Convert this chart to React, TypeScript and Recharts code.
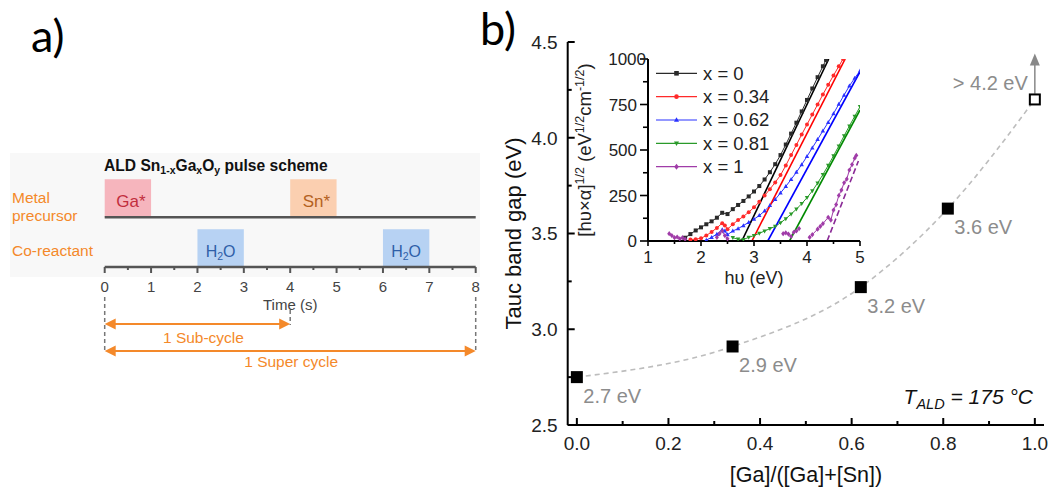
import React from 'react';
import {
  ComposedChart,
  LineChart,
  Line,
  Scatter,
  XAxis,
  YAxis,
  ReferenceArea,
  ReferenceLine,
  Legend,
} from 'recharts';

const FONT = '"Liberation Sans", Arial, Helvetica, sans-serif';

// ---------------- Panel a data ----------------
const timeTicks = [0, 0.5, 1, 1.5, 2, 2.5, 3, 3.5, 4, 4.5, 5, 5.5, 6, 6.5, 7, 7.5, 8];
const pulseNames = ['Ga*', 'H2O', 'Sn*', 'H2O'];
const pulseStart = [0, 2, 4, 6];
const pulseEnd = [1, 3, 5, 7];
const pulseRow = ['metal', 'co', 'metal', 'co'];
const cycleNames = ['1 Sub-cycle', '1 Super cycle'];
const cycleEnd = [4, 8];

// ---------------- Panel b data ----------------
const gaFraction = [0, 0.34, 0.62, 0.81, 1.0];
const bandGap = [2.75, 2.91, 3.22, 3.63, 4.2];
const gapLabels = ['2.7 eV', '2.9 eV', '3.2 eV', '3.6 eV', '> 4.2 eV'];
const isLowerBound = [false, false, false, false, true];
const mainXTicks = [0, 0.1, 0.2, 0.3, 0.4, 0.5, 0.6, 0.7, 0.8, 0.9, 1.0];
const mainYTicks = [2.5, 2.75, 3, 3.25, 3.5, 3.75, 4, 4.25, 4.5];

// ---------------- Inset data (Tauc plots) ----------------
const insetNames = ['x = 0', 'x = 0.34', 'x = 0.62', 'x = 0.81', 'x = 1'];
const insetXTicks = [1, 1.5, 2, 2.5, 3, 3.5, 4, 4.5, 5];
const insetYTicks = [0, 125, 250, 375, 500, 625, 750, 875, 1000];

const taucX0: [number, number | null][] = [
  [1.7, 18], [1.8, 38], [1.9, 58], [2.0, 75], [2.1, 92], [2.2, 108], [2.3, 128], [2.4, 155],
  [2.5, 148], [2.6, 175], [2.7, 198], [2.8, 220], [2.9, 245], [3.0, 272], [3.1, 302], [3.2, 338],
  [3.3, 378], [3.4, 422], [3.5, 472], [3.6, 530], [3.7, 590], [3.8, 650], [3.9, 712], [4.0, 775],
  [4.1, 838], [4.2, 900], [4.3, 960], [4.36, 995],
];
const taucX034: [number, number | null][] = [
  [1.8, 8], [1.9, 10], [2.0, 15], [2.1, 30], [2.2, 50], [2.3, 72], [2.4, 98], [2.45, 85],
  [2.5, 65], [2.6, 92], [2.7, 115], [2.8, 135], [2.9, 158], [3.0, 185], [3.1, 215], [3.2, 250],
  [3.3, 285], [3.4, 322], [3.5, 362], [3.6, 415], [3.7, 472], [3.8, 528], [3.9, 585], [4.0, 640],
  [4.1, 695], [4.2, 750], [4.3, 805], [4.4, 858], [4.5, 910], [4.6, 960], [4.68, 1000],
];
const taucX062: [number, number | null][] = [
  [2.1, 5], [2.2, 20], [2.3, 38], [2.4, 62], [2.45, 55], [2.5, 35], [2.6, 55], [2.7, 68],
  [2.8, 85], [2.9, 102], [3.0, 120], [3.1, 140], [3.2, 165], [3.3, 195], [3.4, 228], [3.5, 264],
  [3.6, 300], [3.7, 338], [3.8, 378], [3.9, 420], [4.0, 465], [4.1, 512], [4.2, 558], [4.3, 605],
  [4.4, 652], [4.5, 700], [4.6, 752], [4.7, 802], [4.8, 852], [4.9, 895], [5.0, 935],
];
const taucX081: [number, number | null][] = [
  [2.6, 18], [2.7, 10], [2.8, 8], [2.9, 20], [3.0, 30], [3.1, 42], [3.2, 55], [3.3, 68],
  [3.4, 80], [3.5, 100], [3.6, 122], [3.7, 148], [3.8, 175], [3.9, 205], [4.0, 238], [4.1, 275],
  [4.2, 318], [4.3, 365], [4.4, 415], [4.5, 468], [4.6, 522], [4.7, 578], [4.8, 632], [4.9, 685],
  [5.0, 738],
];
const taucX1: [number, number | null][] = [
  [1.4, 40], [1.45, 30], [1.5, 18], [1.55, 22], [1.6, 12], [1.65, 18], [1.7, 10], [1.75, null],
  [2.3, 20], [2.35, 40], [2.4, 55], [2.45, 30], [2.5, 12], [2.55, null],
  [3.55, 40], [3.6, 45], [3.65, 38], [3.7, 25], [3.75, 48], [3.8, 55], [3.85, 68], [3.9, null],
  [4.05, 20], [4.1, 35], [4.2, 65], [4.25, 80], [4.3, 95], [4.4, 130], [4.45, 115], [4.5, 170],
  [4.55, 200], [4.6, 250], [4.65, 280], [4.7, 320], [4.75, 340], [4.8, 390], [4.85, 420],
  [4.9, 455], [4.93, 470],
];
const fitX0: [number, number][] = [[2.77, 0], [4.41, 1000]];
const fitX034: [number, number][] = [[2.96, 0], [4.72, 1000]];
const fitX062: [number, number][] = [[3.26, 0], [5.0, 930]];
const fitX081: [number, number][] = [[3.67, 0], [5.0, 720]];
const fitX1: [number, number][] = [[4.38, 0], [4.97, 440]];

// ---------------- styles ----------------
const PULSE_STYLE: Record<string, { fill: string; text: string }> = {
  'Ga*': { fill: '#f6b5bd', text: '#c22e3d' },
  'Sn*': { fill: '#fbcfb0', text: '#b3611f' },
  H2O: { fill: '#b7d2f3', text: '#2f5fa8' },
};
const ROW_BAND: Record<string, [number, number]> = { metal: [49.7, 87.7], co: [0, 37.7] };
const CYCLE_Y = [56, 29];
const ORANGE = '#f4892a';
const SERIES_STYLE = [
  { color: '#2a2a2a', fit: '#000000', shape: 'square' },
  { color: '#ff2a2a', fit: '#ff0000', shape: 'circle' },
  { color: '#2a32ff', fit: '#0000ff', shape: 'up' },
  { color: '#2a9a2a', fit: '#008a00', shape: 'down' },
  { color: '#a03ca8', fit: '#8a2a96', shape: 'diamond' },
];

const toRows = (arr: [number, number | null][]) => arr.map(([hv, v]) => ({ hv, v }));
const insetSeries = [taucX0, taucX034, taucX062, taucX081, taucX1].map(toRows);
const insetFits = [fitX0, fitX034, fitX062, fitX081, fitX1].map(toRows);

const mainData = gaFraction.map((x, i) => ({
  x,
  gap: bandGap[i],
  label: gapLabels[i],
  open: isLowerBound[i],
}));
const timeData = timeTicks.map((t) => ({ t }));

// ---------------- helpers ----------------
const Marker = ({ shape, cx, cy, color, s }: any) => {
  if (cx == null || cy == null || Number.isNaN(cx) || Number.isNaN(cy)) return <g />;
  switch (shape) {
    case 'square':
      return <rect x={cx - s} y={cy - s} width={2 * s} height={2 * s} fill={color} />;
    case 'circle':
      return <circle cx={cx} cy={cy} r={s} fill={color} />;
    case 'up':
      return <polygon points={`${cx},${cy - s * 1.2} ${cx - s * 1.1},${cy + s * 0.8} ${cx + s * 1.1},${cy + s * 0.8}`} fill={color} />;
    case 'down':
      return <polygon points={`${cx},${cy + s * 1.2} ${cx - s * 1.1},${cy - s * 0.8} ${cx + s * 1.1},${cy - s * 0.8}`} fill={color} />;
    default:
      return <polygon points={`${cx},${cy - s * 1.3} ${cx + s},${cy} ${cx},${cy + s * 1.3} ${cx - s},${cy}`} fill={color} />;
  }
};

const isMult = (v: number, step: number) => Math.abs(v / step - Math.round(v / step)) < 1e-6;

// panel a ticks
const TimeTick = (p: any) => {
  const { x, y, payload } = p;
  const v = payload.value;
  const major = isMult(v, 1);
  return (
    <g>
      <line x1={x} x2={x} y1={y} y2={y + (major ? 6 : 3)} stroke="#555" strokeWidth={2} />
      {major && (
        <text x={x} y={y + 25} textAnchor="middle" fontSize={15} fill="#444" fontFamily={FONT}>
          {v}
        </text>
      )}
    </g>
  );
};

// main chart ticks (inward)
const MainXTick = (p: any) => {
  const { x, y, payload } = p;
  const v = payload.value;
  const major = isMult(v, 0.2);
  return (
    <g>
      <line x1={x} x2={x} y1={y} y2={y - (major ? 7 : 4)} stroke="#000" strokeWidth={2} />
      {major && (
        <text x={x} y={y + 24.5} textAnchor="middle" fontSize={19} fill="#222" fontFamily={FONT}>
          {v.toFixed(1)}
        </text>
      )}
    </g>
  );
};
const MainTopTick = (p: any) => {
  const { x, y, payload } = p;
  const major = isMult(payload.value, 0.2);
  return <line x1={x} x2={x} y1={y} y2={y + (major ? 7 : 4)} stroke="#000" strokeWidth={2} />;
};
const MainYTick = (p: any) => {
  const { x, y, payload } = p;
  const v = payload.value;
  const major = isMult(v, 0.5);
  return (
    <g>
      <line x1={x} x2={x + (major ? 7 : 4)} y1={y} y2={y} stroke="#000" strokeWidth={2} />
      {major && (
        <text x={x - 10} y={y + 6.8} textAnchor="end" fontSize={19} fill="#222" fontFamily={FONT}>
          {v.toFixed(1)}
        </text>
      )}
    </g>
  );
};
const MainRightTick = (p: any) => {
  const { x, y, payload } = p;
  const major = isMult(payload.value, 0.5);
  return <line x1={x} x2={x - (major ? 7 : 4)} y1={y} y2={y} stroke="#000" strokeWidth={2} />;
};

// inset ticks (outward)
const InsetXTick = (p: any) => {
  const { x, y, payload } = p;
  const v = payload.value;
  const major = isMult(v, 1);
  return (
    <g>
      <line x1={x} x2={x} y1={y} y2={y + (major ? 5 : 3)} stroke="#000" strokeWidth={1.6} />
      {major && (
        <text x={x} y={y + 22} textAnchor="middle" fontSize={17} fill="#222" fontFamily={FONT}>
          {v}
        </text>
      )}
    </g>
  );
};
const InsetYTick = (p: any) => {
  const { x, y, payload } = p;
  const v = payload.value;
  const major = isMult(v, 250);
  return (
    <g>
      <line x1={x} x2={x - (major ? 8 : 5)} y1={y} y2={y} stroke="#000" strokeWidth={1.6} />
      {major && (
        <text x={v === 1000 ? x - 2 : x - 11} y={y + 6} textAnchor="end" fontSize={17} fill="#222" fontFamily={FONT}>
          {v}
        </text>
      )}
    </g>
  );
};

const InsetLegend = (props: any) => {
  const payload = (props.payload || []).filter((e: any) => e.type !== 'none' && insetNames.includes(e.value));
  return (
    <svg width={130} height={118} style={{ display: 'block', overflow: 'visible' }}>
      {payload.map((e: any) => {
        const idx = insetNames.indexOf(e.value);
        const st = SERIES_STYLE[idx];
        const y = 11.3 + idx * 23.35;
        return (
          <g key={e.value}>
            <line x1={4} x2={45} y1={y} y2={y} stroke={st.color} strokeWidth={1.2} />
            <Marker shape={st.shape} cx={24.5} cy={y} color={st.color} s={2.3} />
            <text x={51} y={y + 6.4} fontSize={18.5} fill="#222" fontFamily={FONT}>
              {e.value}
            </text>
          </g>
        );
      })}
    </svg>
  );
};

const GapPoint = (props: any) => {
  const { cx, cy, payload } = props;
  if (cx == null || cy == null) return <g />;
  if (payload.open) {
    return (
      <g>
        <rect x={cx - 5} y={cy - 5} width={10} height={10} fill="#fff" stroke="#000" strokeWidth={2} />
        <text x={cx - 7} y={cy - 9} textAnchor="end" fontSize={20} fill="#8c8c8c" fontFamily={FONT}>
          {payload.label}
        </text>
      </g>
    );
  }
  return (
    <g>
      <rect x={cx - 6} y={cy - 6} width={12} height={12} fill="#000" />
      <text x={cx + 6.5} y={cy + 25.5} fontSize={20} fill="#8c8c8c" fontFamily={FONT}>
        {payload.label}
      </text>
    </g>
  );
};

const UpArrow = (p: any) => {
  const { x1, y1, x2, y2 } = p;
  return (
    <g>
      <line x1={x1} y1={y1} x2={x2} y2={y2 + 10} stroke="#888" strokeWidth={1.5} />
      <polygon points={`${x2},${y2} ${x2 - 5},${y2 + 12} ${x2 + 5},${y2 + 12}`} fill="#888" />
    </g>
  );
};

const pulseLabel = (name: string) => (props: any) => {
  const vb = props.viewBox || {};
  const cx = vb.x + vb.width / 2;
  const cy = vb.y + vb.height / 2;
  const col = PULSE_STYLE[name].text;
  if (name === 'H2O') {
    return (
      <text x={cx} y={cy + 8.5} textAnchor="middle" fontSize={16} fill={col} fontFamily={FONT}>
        H<tspan fontSize={10.5} dy={3.5}>2</tspan>
        <tspan dy={-3.5}>O</tspan>
      </text>
    );
  }
  return (
    <text x={cx + 3} y={cy + 8.4} textAnchor="middle" fontSize={17} fill={col} fontFamily={FONT}>
      {name}
    </text>
  );
};

const cycleShape = (name: string) => (p: any) => {
  const { x1, y1, x2 } = p;
  const L = 11;
  const w = 5.5;
  return (
    <g>
      <line x1={x1 + L - 1} x2={x2 - L + 1} y1={y1} y2={y1} stroke={ORANGE} strokeWidth={2.2} />
      <polygon points={`${x1},${y1} ${x1 + L},${y1 - w} ${x1 + L},${y1 + w}`} fill={ORANGE} />
      <polygon points={`${x2},${y1} ${x2 - L},${y1 - w} ${x2 - L},${y1 + w}`} fill={ORANGE} />
      <text
        x={(x1 + x2) / 2 + (name === '1 Sub-cycle' ? 6 : 1)}
        y={y1 + (name === '1 Sub-cycle' ? 19 : 15.5)}
        textAnchor="middle"
        fontSize={15.5}
        fill={ORANGE}
        fontFamily={FONT}
      >
        {name}
      </text>
    </g>
  );
};

export default function App() {
  return (
    <div style={{ position: 'absolute', left: 0, top: 0, width: 1051, height: 490, background: '#fff', overflow: 'hidden', fontFamily: FONT }}>
      {/* faint background of the pulse scheme */}
      <svg width={1051} height={490} style={{ position: 'absolute', left: 0, top: 0 }}>
        <rect x={10} y={153} width={470} height={124} fill="#f8f8f8" />
      </svg>

      {/* Panel a: cycle arrows */}
      <div style={{ position: 'absolute', left: 0, top: 290 }}>
        <ComposedChart width={480} height={90} data={timeData} margin={{ top: 0, right: 4.3, left: 104.7, bottom: 0 }}>
          <XAxis type="number" dataKey="t" domain={[0, 8]} allowDataOverflow hide />
          <YAxis type="number" domain={[0, 90]} allowDataOverflow hide />
          <ReferenceLine segment={[{ x: 0, y: 83 }, { x: 0, y: 27 }]} stroke="#777" strokeWidth={1.5} strokeDasharray="4 3" />
          <ReferenceLine segment={[{ x: 4, y: 70 }, { x: 4, y: 55 }]} stroke="#777" strokeWidth={1.5} strokeDasharray="4 3" />
          <ReferenceLine segment={[{ x: 8, y: 83 }, { x: 8, y: 27 }]} stroke="#777" strokeWidth={1.5} strokeDasharray="4 3" />
          {cycleNames.map((name, i) => (
            <ReferenceLine
              key={name}
              segment={[{ x: 0, y: CYCLE_Y[i] }, { x: cycleEnd[i], y: CYCLE_Y[i] }]}
              shape={cycleShape(name)}
            />
          ))}
        </ComposedChart>
      </div>

      {/* Panel a: pulse rows + time axis */}
      <div style={{ position: 'absolute', left: 0, top: 140 }}>
        <ComposedChart width={480} height={182} data={timeData} margin={{ top: 10, right: 4.3, left: 104.7, bottom: 12 }}>
          <XAxis
            type="number"
            dataKey="t"
            domain={[0, 8]}
            allowDataOverflow
            ticks={timeTicks}
            interval={0}
            height={43}
            tickSize={0}
            tickMargin={0}
            tickLine={false}
            axisLine={{ stroke: '#555', strokeWidth: 2.5 }}
            tick={(p: any) => <TimeTick {...p} />}
            label={(props: any) => {
              const vb = props.viewBox || { x: 104.7, y: 127, width: 371, height: 43 };
              return (
                <text x={vb.x + vb.width / 2} y={vb.y + vb.height} textAnchor="middle" fontSize={15} fill="#444" fontFamily={FONT}>
                  Time (s)
                </text>
              );
            }}
          />
          <YAxis type="number" domain={[0, 117]} allowDataOverflow hide />
          {pulseNames.map((name, i) => (
            <ReferenceArea
              key={`p${i}`}
              x1={pulseStart[i]}
              x2={pulseEnd[i]}
              y1={ROW_BAND[pulseRow[i]][0]}
              y2={ROW_BAND[pulseRow[i]][1]}
              fill={PULSE_STYLE[name].fill}
              fillOpacity={1}
              stroke="none"
              label={pulseLabel(name)}
            />
          ))}
          <ReferenceLine y={ROW_BAND.metal[0]} stroke="#555" strokeWidth={2.5} />
        </ComposedChart>
      </div>

      {/* Panel b: main chart */}
      <div style={{ position: 'absolute', left: 0, top: 0 }}>
        <ComposedChart width={1051} height={490} data={mainData} margin={{ top: 42, right: 7, left: 507.7, bottom: 5 }}>
          <XAxis
            type="number"
            dataKey="x"
            domain={[-0.02, 1.02]}
            allowDataOverflow
            ticks={mainXTicks}
            interval={0}
            height={60}
            tickSize={0}
            tickMargin={0}
            tickLine={false}
            axisLine={{ stroke: '#000', strokeWidth: 2 }}
            tick={(p: any) => <MainXTick {...p} />}
            label={() => (
              <text x={806} y={482} textAnchor="middle" fontSize={21.5} fill="#111" fontFamily={FONT}>
                [Ga]/([Ga]+[Sn])
              </text>
            )}
          />
          <XAxis
            xAxisId="top"
            orientation="top"
            type="number"
            domain={[-0.02, 1.02]}
            allowDataOverflow
            ticks={mainXTicks}
            interval={0}
            height={0}
            tickSize={0}
            tickMargin={0}
            tickLine={false}
            axisLine={{ stroke: '#000', strokeWidth: 2 }}
            tick={(p: any) => <MainTopTick {...p} />}
          />
          <YAxis
            type="number"
            domain={[2.5, 4.5]}
            allowDataOverflow
            ticks={mainYTicks}
            interval={0}
            width={60}
            tickSize={0}
            tickMargin={0}
            tickLine={false}
            axisLine={{ stroke: '#000', strokeWidth: 2 }}
            tick={(p: any) => <MainYTick {...p} />}
            label={() => (
              <text transform="translate(521,233.5) rotate(-90)" textAnchor="middle" fontSize={22} fill="#111" fontFamily={FONT}>
                Tauc band gap (eV)
              </text>
            )}
          />
          <YAxis
            yAxisId="right"
            orientation="right"
            type="number"
            domain={[2.5, 4.5]}
            allowDataOverflow
            ticks={mainYTicks}
            interval={0}
            width={0}
            tickSize={0}
            tickMargin={0}
            tickLine={false}
            axisLine={{ stroke: '#000', strokeWidth: 2 }}
            tick={(p: any) => <MainRightTick {...p} />}
          />
          <Line
            type="monotone"
            dataKey="gap"
            stroke="#bdbdbd"
            strokeWidth={1.6}
            strokeDasharray="5 4"
            dot={false}
            activeDot={false}
            isAnimationActive={false}
          />
          <Scatter dataKey="gap" shape={(p: any) => <GapPoint {...p} />} isAnimationActive={false} />
          <ReferenceLine segment={[{ x: 1.0, y: 4.23 }, { x: 1.0, y: 4.44 }]} shape={(p: any) => <UpArrow {...p} />} />
        </ComposedChart>
      </div>

      {/* Panel b: inset Tauc plot */}
      <div style={{ position: 'absolute', left: 540, top: 40 }}>
        <LineChart width={330} height={262} margin={{ top: 19, right: 10, left: 58, bottom: 31 }}>
          <XAxis
            type="number"
            dataKey="hv"
            domain={[1, 5]}
            allowDataOverflow
            ticks={insetXTicks}
            interval={0}
            height={30}
            tickSize={0}
            tickMargin={0}
            tickLine={false}
            axisLine={{ stroke: '#000', strokeWidth: 2 }}
            tick={(p: any) => <InsetXTick {...p} />}
            label={() => (
              <text x={214} y={244} textAnchor="middle" fontSize={18} fill="#222" fontFamily={FONT}>
                hυ (eV)
              </text>
            )}
          />
          <XAxis
            xAxisId="top"
            orientation="top"
            type="number"
            dataKey="hv"
            domain={[1, 5]}
            allowDataOverflow
            height={0}
            tick={false}
            tickLine={false}
            axisLine={{ stroke: '#000', strokeWidth: 2 }}
          />
          <YAxis
            type="number"
            domain={[0, 1000]}
            allowDataOverflow
            ticks={insetYTicks}
            interval={0}
            width={50}
            tickSize={0}
            tickMargin={0}
            tickLine={false}
            axisLine={{ stroke: '#000', strokeWidth: 2 }}
            tick={(p: any) => <InsetYTick {...p} />}
            label={() => (
              <text transform="translate(51,110) rotate(-90)" textAnchor="middle" fontSize={18.5} fill="#222" fontFamily={FONT}>
                [hυ×α]<tspan dy={-7} fontSize={12.5}>1/2</tspan>
                <tspan dy={7}> (eV</tspan>
                <tspan dy={-7} fontSize={12.5}>1/2</tspan>
                <tspan dy={7}>cm</tspan>
                <tspan dy={-7} fontSize={12.5}>-1/2</tspan>
                <tspan dy={7}>)</tspan>
              </text>
            )}
          />
          <YAxis
            yAxisId="right"
            orientation="right"
            type="number"
            domain={[0, 1000]}
            allowDataOverflow
            width={0}
            tick={false}
            tickLine={false}
            axisLine={{ stroke: '#000', strokeWidth: 2 }}
          />
          {insetSeries.map((rows, i) => (
            <Line
              key={insetNames[i]}
              name={insetNames[i]}
              data={rows}
              dataKey="v"
              type="linear"
              stroke={SERIES_STYLE[i].color}
              strokeWidth={1}
              dot={(p: any) => <Marker key={`d${i}-${p.index}`} shape={SERIES_STYLE[i].shape} cx={p.cx} cy={p.cy} color={SERIES_STYLE[i].color} s={2} />}
              activeDot={false}
              isAnimationActive={false}
            />
          ))}
          {insetFits.map((rows, i) => (
            <Line
              key={`fit${i}`}
              name={`fit ${insetNames[i]}`}
              data={rows}
              dataKey="v"
              type="linear"
              stroke={SERIES_STYLE[i].fit}
              strokeWidth={1.6}
              strokeDasharray={i === 4 ? '6 3' : undefined}
              dot={false}
              activeDot={false}
              legendType="none"
              isAnimationActive={false}
            />
          ))}
          <Legend
            layout="vertical"
            align="center"
            verticalAlign="middle"
            content={(p: any) => <InsetLegend {...p} />}
            wrapperStyle={{ left: 112, top: 22, width: 130, height: 118 }}
          />
        </LineChart>
      </div>

      {/* static annotations */}
      <svg width={1051} height={490} style={{ position: 'absolute', left: 0, top: 0, pointerEvents: 'none' }}>
        <text x={31} y={52} fontSize={45} fill="#000" fontFamily="Lato, 'Open Sans', sans-serif">a)</text>
        <text x={480} y={45} fontSize={45} fill="#000" fontFamily="Lato, 'Open Sans', sans-serif">b)</text>
        <text x={104} y={171} fontSize={15.6} fontWeight="bold" fill="#111" fontFamily={FONT}>
          ALD Sn<tspan fontSize={10.5} dy={3}>1-x</tspan>
          <tspan dy={-3}>Ga</tspan>
          <tspan fontSize={10.5} dy={3}>x</tspan>
          <tspan dy={-3}>O</tspan>
          <tspan fontSize={10.5} dy={3}>y</tspan>
          <tspan dy={-3}> pulse scheme</tspan>
        </text>
        <text x={12} y={203} fontSize={15.5} fill={ORANGE} fontFamily={FONT}>Metal</text>
        <text x={12} y={221} fontSize={15.5} fill={ORANGE} fontFamily={FONT}>precursor</text>
        <text x={12} y={256} fontSize={15.5} fill={ORANGE} fontFamily={FONT}>Co-reactant</text>
        <text x={1033} y={404} textAnchor="end" fontSize={21} fontStyle="italic" fill="#111" fontFamily={FONT}>
          T<tspan fontSize={14.5} dy={5}>ALD</tspan>
          <tspan dy={-5}> = 175 °C</tspan>
        </text>
      </svg>
    </div>
  );
}
